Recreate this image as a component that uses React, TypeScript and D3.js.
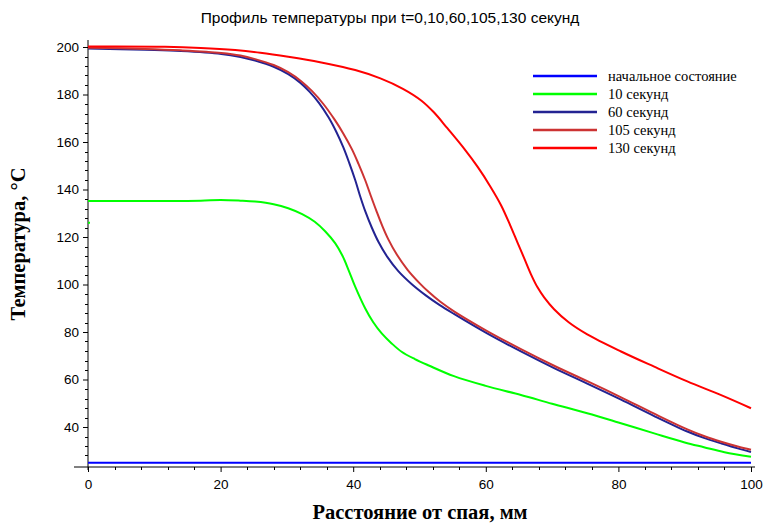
import { useEffect, useRef } from 'react'
import * as d3 from 'd3'

const W = 765
const H = 523
// plot frame
const X0 = 88, X1 = 751
const Y0 = 467, Y1 = 47 // y pixel of the bottom of the axis and of 200

const TITLE = 'Профиль температуры при t=0,10,60,105,130 секунд'
const X_LABEL = 'Расстояние от спая, мм'
const Y_LABEL = 'Температура, °C'

const xTicks = [0, 20, 40, 60, 80, 100]
const yTicks = [40, 60, 80, 100, 120, 140, 160, 180, 200]

type Pt = [number, number]

const initial: Pt[] = [[0, 25], [100, 25]]

// first sample of the 10 s curve sits apart from the rest
const sec10Start: Pt = [0, 126]
const sec10: Pt[] = [
  [0, 135.2], [10, 135.2], [17, 135.3], [20, 135.6], [23, 135.3], [25.2, 134.9],
  [28, 133.8], [30.2, 132.1], [32.3, 129.6], [34.2, 126.4], [35.8, 122.3], [37.3, 117.3],
  [38.4, 112], [39.3, 106.1], [40.3, 99.1], [41.8, 90], [43, 84.2], [44.3, 79.4],
  [45.8, 75.2], [47.3, 71.7], [49.3, 68.6], [51.4, 65.9], [55.2, 61.4], [60, 57.3],
  [65.3, 53.5], [70, 49.8], [75.3, 45.8], [80, 41.9], [85.4, 37.3], [90, 33.5],
  [92.9, 31.5], [96, 29.4], [100, 27.5],
]

const sec60: Pt[] = [
  [0, 199.4], [8.6, 198.8], [14, 198.3], [20.1, 197.1], [23, 195.8], [25.2, 194.3],
  [28, 191.7], [30.2, 188.6], [32, 185], [33.4, 181.2], [34.8, 176.6], [36.3, 170.3],
  [37.5, 164], [38.5, 157.8], [39.4, 151.2], [40.3, 144], [41, 137.6], [41.8, 131],
  [42.8, 124], [43.8, 118], [45.2, 111.4], [46.8, 105.6], [48.8, 100.2],
  [51, 95.3], [53, 91.4], [55.2, 87.6], [60.2, 79.4], [65.3, 71.8], [70.3, 64.8],
  [75.3, 58.3], [80.4, 51.5], [85.4, 44.6], [90.4, 38.1], [93, 35.3], [95.5, 33.1],
  [98, 31], [100, 29.5],
]

const sec105: Pt[] = [
  [0, 199.7], [8.6, 199.2], [14, 198.6], [20.1, 197.5], [23, 196.4], [25.2, 194.9],
  [28, 192.4], [30.2, 189.4], [32.2, 185.5], [33.8, 181.4], [35.5, 176], [37.2, 169.4],
  [38.5, 163.6], [39.8, 157], [40.8, 150.8], [41.8, 144], [42.6, 137.8], [43.5, 131],
  [44.4, 124.6], [45.3, 119], [46.6, 112.5], [48.2, 106.2], [50, 100.6],
  [51.4, 96.8], [53.2, 92.6], [55.2, 88.7], [60.2, 80.4], [65.3, 72.8], [70.3, 65.8],
  [75.3, 59.3], [80.4, 52.5], [85.4, 45.6], [90.4, 39], [93, 36.1], [95.5, 33.8],
  [98, 31.8], [100, 30.4],
]

const sec130: Pt[] = [
  [0, 200.2], [11.6, 200.1], [17, 199.6], [22.2, 198.7], [26, 197.6], [30.2, 195.9],
  [35, 193.6], [40.3, 190.3], [44.1, 186.8], [47.5, 182.4], [50.3, 177.4], [52.2, 172.4],
  [54.2, 165.8], [56.7, 157.3], [58.8, 149.4], [60.7, 141.2], [62.3, 133.4], [63.7, 124.8],
  [64.8, 117.5], [65.8, 111], [66.8, 104.4], [67.8, 98.8], [68.8, 94.6], [70.3, 89.6],
  [72.5, 84.1], [75.3, 79], [80.4, 71.8], [85.4, 65.4], [90.4, 59.2], [95.5, 53.4],
  [100, 47.9],
]

const seriesNames = ['начальное состояние', '10 секунд', '60 секунд', '105 секунд', '130 секунд']
const seriesColors = ['#0000ff', '#00ff00', '#232392', '#cc3333', '#ff0000']
const seriesData = [initial, sec10, sec60, sec105, sec130]

export default function App() {
  const svgRef = useRef<SVGSVGElement>(null)

  useEffect(() => {
    const svg = d3.select(svgRef.current)
    svg.selectAll('*').remove()

    const x = d3.scaleLinear().domain([0, 100]).range([X0, X1])
    const y = d3.scaleLinear().domain([200 - (Y0 - Y1) / 2.375, 200]).range([Y0, Y1])

    const sans = 'Liberation Sans, Arial, sans-serif'
    const serif = 'Liberation Serif, Times New Roman, serif'

    svg.append('text')
      .attr('x', 390).attr('y', 23)
      .attr('text-anchor', 'middle')
      .attr('font-family', sans).attr('font-size', 15.5)
      .text(TITLE)

    // y axis
    const yAxis = d3.axisLeft(y).tickValues(yTicks).tickSize(5).tickSizeOuter(0)
      .tickFormat(d3.format('d'))
    svg.append('g')
      .attr('transform', `translate(${X0},0)`)
      .call(yAxis)
      .call(g => g.select('.domain').attr('d', `M0,40V${Y0 + 3}`))
      .call(g => g.selectAll('text').attr('font-family', sans).attr('font-size', 13.5).attr('fill', '#000').attr('dx', '-1'))
      .call(g => g.selectAll('line').attr('stroke', '#000'))
    const yMinor = d3.range(28, 204, 4).filter(v => v % 20 !== 0)
    svg.append('g').selectAll('line').data(yMinor).join('line')
      .attr('x1', X0 - 3).attr('x2', X0)
      .attr('y1', d => Math.round(y(d)) + 0.5).attr('y2', d => Math.round(y(d)) + 0.5)
      .attr('stroke', '#000')

    // x axis
    const xAxis = d3.axisBottom(x).tickValues(xTicks).tickSize(5).tickSizeOuter(0)
    svg.append('g')
      .attr('transform', `translate(0,${Y0})`)
      .call(xAxis)
      .call(g => g.select('.domain').attr('d', `M74,0H755`))
      .call(g => g.selectAll('text').attr('font-family', sans).attr('font-size', 13.5).attr('fill', '#000').attr('dy', '1em'))
      .call(g => g.selectAll('line').attr('stroke', '#000'))
    const xMinor = d3.range(4, 100, 4).filter(v => v % 20 !== 0)
    svg.append('g').selectAll('line').data(xMinor).join('line')
      .attr('x1', d => Math.round(x(d)) + 0.5).attr('x2', d => Math.round(x(d)) + 0.5)
      .attr('y1', Y0).attr('y2', Y0 + 3)
      .attr('stroke', '#000')

    // axis titles
    svg.append('text')
      .attr('x', 420).attr('y', 519)
      .attr('text-anchor', 'middle')
      .attr('font-family', serif).attr('font-size', 20.5).attr('font-weight', 'bold')
      .text(X_LABEL)
    svg.append('text')
      .attr('transform', `translate(25,244) rotate(-90)`)
      .attr('text-anchor', 'middle')
      .attr('font-family', serif).attr('font-size', 20.5).attr('font-weight', 'bold')
      .text(Y_LABEL)

    // curves
    const line = d3.line<Pt>().x(d => x(d[0])).y(d => y(d[1])).curve(d3.curveCatmullRom.alpha(0.5))
    seriesData.forEach((data, i) => {
      svg.append('path').datum(data)
        .attr('d', line)
        .attr('fill', 'none')
        .attr('stroke', seriesColors[i])
        .attr('stroke-width', 2)
    })
    svg.append('rect')
      .attr('x', x(sec10Start[0])).attr('y', y(sec10Start[1]) - 1)
      .attr('width', 2).attr('height', 2)
      .attr('fill', seriesColors[1])

    // legend
    const lg = svg.append('g')
    seriesNames.forEach((name, i) => {
      const ly = 76 + i * 18
      lg.append('line')
        .attr('x1', 533).attr('x2', 597).attr('y1', ly).attr('y2', ly)
        .attr('stroke', seriesColors[i]).attr('stroke-width', 2.5)
      lg.append('text')
        .attr('x', 608).attr('y', ly + 4.5)
        .attr('font-family', serif).attr('font-size', 14.5)
        .text(name)
    })
  }, [])

  return (
    <div style={{ position: 'absolute', left: 0, top: 0 }}>
      <svg ref={svgRef} width={W} height={H} style={{ display: 'block', background: '#fff' }} />
    </div>
  )
}
